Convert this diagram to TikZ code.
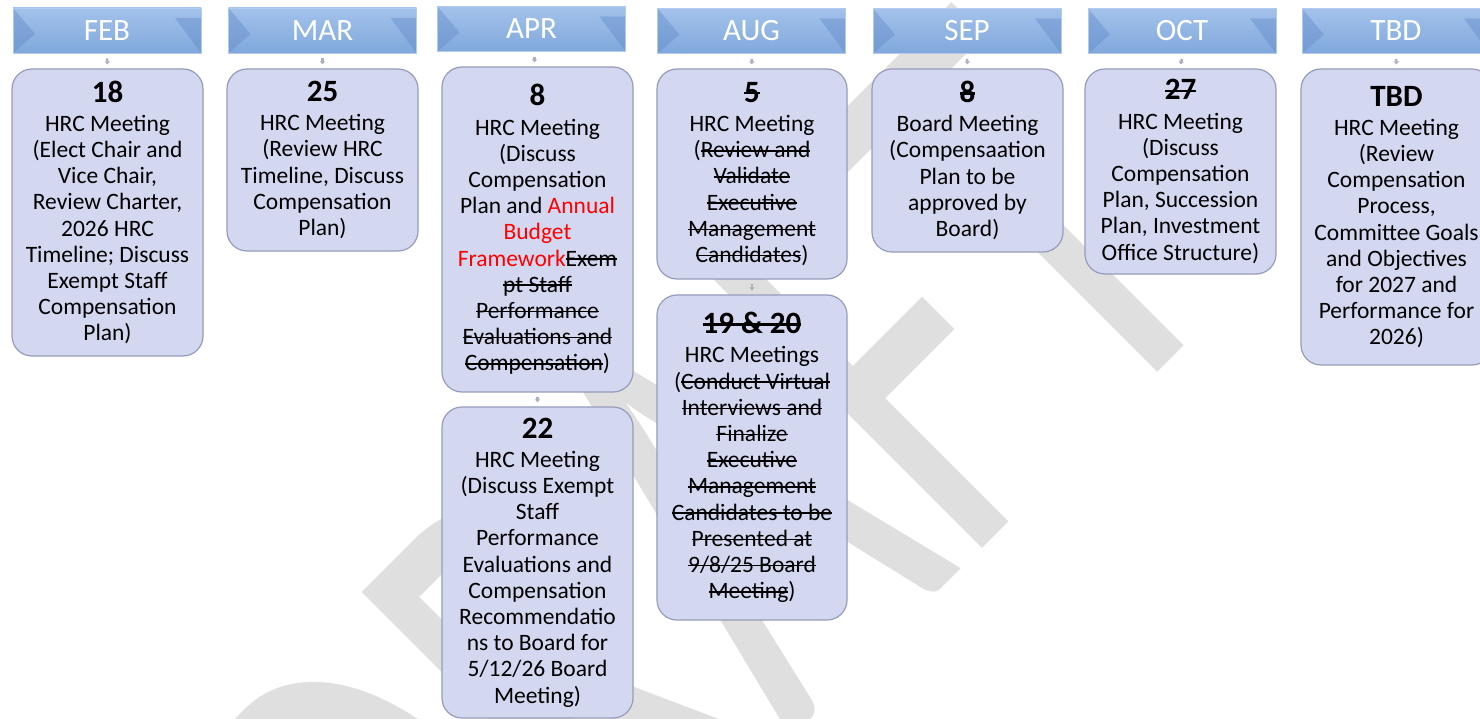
\documentclass[tikz,border=0pt]{standalone}
\usepackage{fontspec}
\setmainfont{Carlito}
\newfontfamily\wmfont{Carlito}
\usetikzlibrary{arrows.meta}
\definecolor{boxfill}{RGB}{211,216,240}
\definecolor{boxline}{RGB}{150,155,186}
\definecolor{hdrtop}{RGB}{163,194,235}
\definecolor{hdrbot}{RGB}{128,168,220}
\definecolor{hdrdark}{RGB}{95,135,198}
\definecolor{hdrline}{RGB}{178,202,236}
\definecolor{wmgray}{RGB}{223,223,223}
\definecolor{wred}{RGB}{255,0,0}
\definecolor{conngray}{RGB}{172,176,192}
\newcommand{\stk}[1]{\setbox0=\hbox{#1}\rlap{\rule[0.26em]{\wd0}{0.07em}}\box0}
\newcommand{\numl}[1]{{\fontsize{31}{31}\selectfont\bfseries #1}\\[3pt]}
\begin{document}
\begin{tikzpicture}[x=1pt,y=-1pt,
  body/.style={draw=boxline, line width=1.2pt, fill=boxfill, rounded corners=20pt,
    minimum width=191pt, align=center, inner sep=0pt,
    font=\fontsize{23.5}{26.2}\selectfont},
  hdr/.style={draw=hdrline, line width=0.8pt, top color=hdrtop, bottom color=hdrbot,
    minimum width=188pt, minimum height=45pt, inner sep=0pt, text=white,
    font=\fontsize{31}{31}\selectfont,
    path picture={
      \fill[hdrdark,opacity=0.40] (path picture bounding box.north west)
        -- ([xshift=22pt,yshift=-26pt]path picture bounding box.north west)
        -- (path picture bounding box.south west) -- cycle;
      \fill[hdrdark,opacity=0.40] ([xshift=-26pt,yshift=-10pt]path picture bounding box.north east)
        -- ([yshift=-10pt]path picture bounding box.north east)
        -- (path picture bounding box.south east) -- cycle;
    }},
  conn/.style={draw=conngray, line width=2.5pt, -{Triangle[width=5pt,length=3pt]}},
  wm/.style={text=wmgray, font=\wmfont\fontsize{420}{420}\selectfont, inner sep=0pt}
]
\useasboundingbox (0,0) rectangle (1480,719);
\clip (0,0) rectangle (1480,719);
\fill[white] (0,0) rectangle (1480,719);

% watermark (stretched, rotated)
\node[wm, rotate=45, yscale=1.51, anchor=base west] (wm) at (446,1084) {DRAFT};

% headers
\node[hdr] (hfeb) at (107,30.5) {FEB};
\node[hdr] (hmar) at (322.5,30.5) {MAR};
\node[hdr] (hapr) at (531.5,29) {APR};
\node[hdr] (haug) at (751.5,31) {AUG};
\node[hdr] (hsep) at (967,31) {SEP};
\node[hdr] (hoct) at (1182,31) {OCT};
\node[hdr] (htbd) at (1396,31) {TBD};

% bodies
\node[body, minimum height=287pt] (bfeb) at (107.5,212.5) {\numl{18}HRC Meeting\\(Elect Chair and\\Vice Chair,\\Review Charter,\\2026 HRC\\Timeline; Discuss\\Exempt Staff\\Compensation\\Plan)};
\node[body, minimum height=182pt] (bmar) at (322.5,160) {\numl{25}HRC Meeting\\(Review HRC\\Timeline, Discuss\\Compensation\\Plan)};
\node[body, minimum height=325pt] (bapra) at (537.5,229.5) {\numl{8}HRC Meeting\\(Discuss\\Compensation\\Plan and \textcolor{wred}{Annual}\\\textcolor{wred}{Budget}\\\textcolor{wred}{Framework}\stk{Exem}\\\stk{pt Staff}\\\stk{Performance}\\\stk{Evaluations and}\\\stk{Compensation})};
\node[body, minimum height=311pt] (baprb) at (537.5,562.5) {\numl{22}HRC Meeting\\(Discuss Exempt\\Staff\\Performance\\Evaluations and\\Compensation\\Recommendatio\\ns to Board for\\5/12/26 Board\\Meeting)};
\node[body, minimum width=190pt, minimum height=210pt] (bauga) at (752,174) {\numl{\stk{5}}HRC Meeting\\(\stk{Review and}\\\stk{Validate}\\\stk{Executive}\\\stk{Management}\\\stk{Candidates})};
\node[body, minimum width=190pt, minimum height=325pt] (baugb) at (752,457.5) {\numl{\stk{19 \& 20}}HRC Meetings\\(\stk{Conduct Virtual}\\\stk{Interviews and}\\\stk{Finalize}\\\stk{Executive}\\\stk{Management}\\\stk{Candidates to be}\\\stk{Presented at}\\\stk{9/8/25 Board}\\\stk{Meeting})};
\node[body, minimum height=183pt] (bsep) at (967.5,160.5) {\numl{\stk{8}}Board Meeting\\(Compensaation\\Plan to be\\approved by\\Board)};
\node[body, minimum height=205pt] (boct) at (1180.5,171.5) {\numl{\stk{27}}HRC Meeting\\(Discuss\\Compensation\\Plan, Succession\\Plan, Investment\\Office Structure)};
\node[body, minimum height=296pt] (btbd) at (1396.5,217) {\numl{TBD}HRC Meeting\\(Review\\Compensation\\Process,\\Committee Goals\\and Objectives\\for 2027 and\\Performance for\\2026)};

% connectors
\draw[conn] ([yshift=-5pt]hfeb.south) -- ([yshift=4pt]bfeb.north);
\draw[conn] ([yshift=-5pt]hmar.south) -- ([yshift=4pt]bmar.north);
\draw[conn] ([yshift=-5pt,xshift=3pt]hapr.south) -- ([yshift=4pt,xshift=-3pt]bapra.north);
\draw[conn] ([yshift=-5pt]haug.south) -- ([yshift=4pt]bauga.north);
\draw[conn] ([yshift=-5pt]hsep.south) -- ([yshift=4pt]bsep.north);
\draw[conn] ([yshift=-5pt]hoct.south) -- ([yshift=4pt]boct.north);
\draw[conn] ([yshift=-5pt]htbd.south) -- ([yshift=4pt]btbd.north);
\draw[conn] ([yshift=-4pt]bapra.south) -- ([yshift=4pt]baprb.north);
\draw[conn] ([yshift=-4pt]bauga.south) -- ([yshift=4pt]baugb.north);
\end{tikzpicture}
\end{document}
